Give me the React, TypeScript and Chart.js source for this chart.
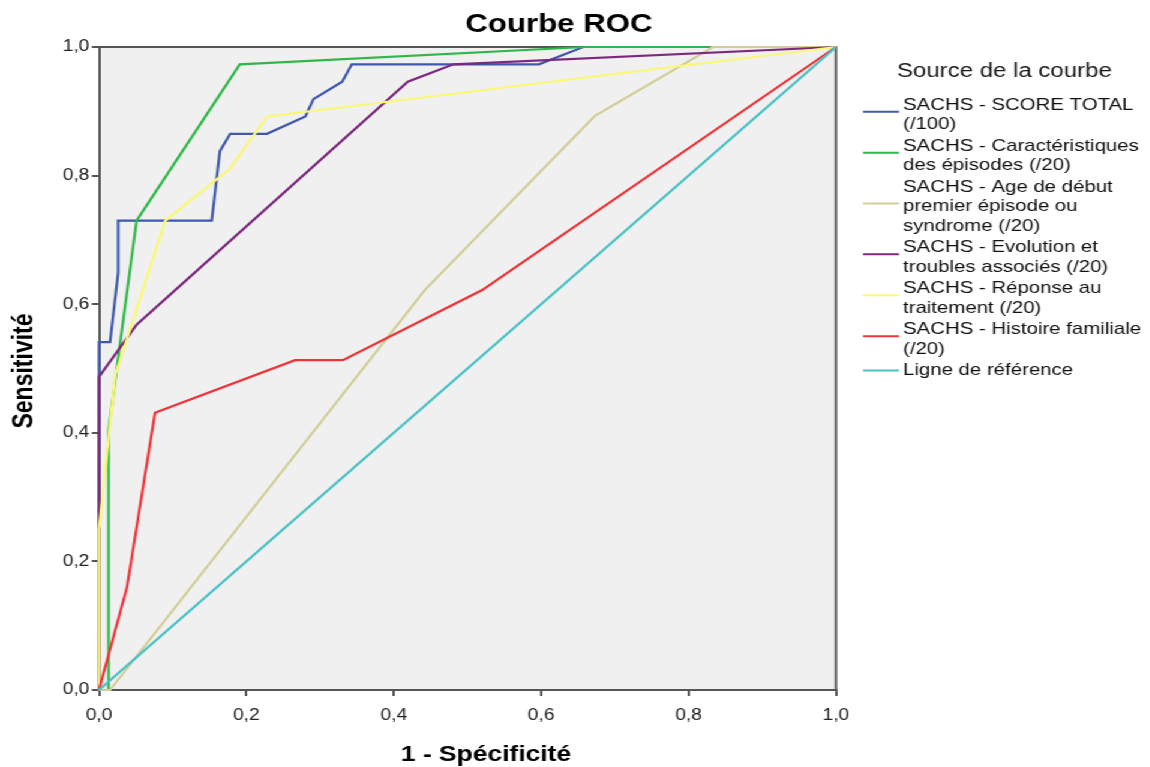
import React, { useEffect, useRef } from 'react';
import { Chart, registerables } from 'chart.js';

Chart.register(...registerables);

// ---------- data ----------
const chartTitle = 'Courbe ROC';
const xAxisTitle = '1 - Spécificité';
const yAxisTitle = 'Sensitivité';
const legendTitle = 'Source de la courbe';

const seriesLabels: string[][] = [
  ['SACHS - SCORE TOTAL', '(/100)'],
  ['SACHS - Caractéristiques', 'des épisodes (/20)'],
  ['SACHS - Age de début', 'premier épisode ou', 'syndrome (/20)'],
  ['SACHS - Evolution et', 'troubles associés (/20)'],
  ['SACHS - Réponse au', 'traitement (/20)'],
  ['SACHS - Histoire familiale', '(/20)'],
  ['Ligne de référence'],
];

const seriesColors = ['#3E58AC', '#2EB848', '#D3CE97', '#7C287D', '#FBF873', '#EF3338', '#48C2C5'];

const scoreTotalX = [0, 0, 0.015, 0.026, 0.026, 0.153, 0.164, 0.178, 0.228, 0.28, 0.291, 0.33, 0.343, 0.597, 0.657, 1];
const scoreTotalY = [0, 0.541, 0.541, 0.649, 0.73, 0.73, 0.838, 0.865, 0.865, 0.892, 0.919, 0.946, 0.973, 0.973, 1, 1];

const caractX = [0, 0.013, 0.013, 0.051, 0.191, 0.66, 1];
const caractY = [0, 0, 0.405, 0.73, 0.973, 1, 1];

const ageX = [0, 0.015, 0.442, 0.673, 0.833, 1];
const ageY = [0, 0, 0.622, 0.893, 1, 1];

const evolX = [0, 0, 0.051, 0.419, 0.481, 1];
const evolY = [0, 0.487, 0.568, 0.946, 0.973, 1];

const reponseX = [0, 0, 0.012, 0.022, 0.09, 0.178, 0.228, 1];
const reponseY = [0, 0.25, 0.38, 0.49, 0.73, 0.811, 0.892, 1];

const histX = [0, 0.038, 0.076, 0.266, 0.331, 0.52, 1];
const histY = [0, 0.16, 0.431, 0.513, 0.513, 0.622, 1];

const refX = [0, 1];
const refY = [0, 1];

const seriesX = [scoreTotalX, caractX, ageX, evolX, reponseX, histX, refX];
const seriesY = [scoreTotalY, caractY, ageY, evolY, reponseY, histY, refY];

const tickValues = [0, 0.2, 0.4, 0.6, 0.8, 1];
const fmtTick = (v: number) => v.toFixed(1).replace('.', ',');

// ---------- layout ----------
const SX = 1.2; // horizontal stretch of the whole picture
const W = 1150 / SX;
const H = 767;
const PLOT_L = 99 / SX;
const PLOT_R = 836 / SX;
const PLOT_T = 47;
const PLOT_B = 690;
const FONT = "'Liberation Sans', Arial, sans-serif";

const decoPlugin = {
  id: 'deco',
  beforeDraw(chart: any) {
    const { ctx, chartArea } = chart;
    ctx.save();
    ctx.fillStyle = '#ffffff';
    ctx.fillRect(0, 0, chart.width, chart.height);
    ctx.fillStyle = '#F0F0F0';
    ctx.fillRect(chartArea.left, chartArea.top, chartArea.right - chartArea.left, chartArea.bottom - chartArea.top);
    ctx.restore();
  },
  beforeDatasetsDraw(chart: any) {
    const { ctx, chartArea } = chart;
    ctx.save();
    ctx.strokeStyle = '#555555';
    ctx.lineWidth = 2;
    ctx.beginPath();
    ctx.moveTo(chartArea.left, chartArea.top);
    ctx.lineTo(chartArea.right, chartArea.top);
    ctx.lineTo(chartArea.right, chartArea.bottom);
    ctx.stroke();
    ctx.restore();
  },
  afterDraw(chart: any) {
    const { ctx } = chart;
    ctx.save();
    ctx.fillStyle = '#000000';
    ctx.textBaseline = 'middle';
    // title
    ctx.textAlign = 'center';
    ctx.font = `bold 26px ${FONT}`;
    ctx.fillText(chartTitle, 559 / SX, 25);
    // x title
    ctx.font = `bold 22px 'Liberation Sans Narrow', 'Arial Narrow', ${FONT}`;
    ctx.fillText(xAxisTitle, 486 / SX, 755);
    // y title
    ctx.save();
    ctx.translate(25 / SX, 371);
    ctx.rotate(-Math.PI / 2);
    ctx.font = `bold 23px ${FONT}`;
    ctx.fillText(yAxisTitle, 0, 0);
    ctx.restore();
    // legend
    ctx.textAlign = 'left';
    ctx.fillStyle = '#1a1a1a';
    ctx.font = `20px ${FONT}`;
    ctx.fillText(legendTitle, 897 / SX, 71);
    ctx.font = `17px ${FONT}`;
    const lineH = 19.5;
    let y = 105;
    seriesLabels.forEach((lines, i) => {
      lines.forEach((t, j) => {
        ctx.fillStyle = '#111111';
        ctx.fillText(t, 903 / SX, y + j * lineH);
      });
      const n = lines.length;
      const sy = y + ((n - 1) * lineH) / 2 - (n > 1 ? 3 : 0);
      ctx.strokeStyle = seriesColors[i];
      ctx.lineWidth = 2;
      ctx.beginPath();
      ctx.moveTo(863 / SX, sy);
      ctx.lineTo(899 / SX, sy);
      ctx.stroke();
      y += n * lineH + 2;
    });
    ctx.restore();
  },
};

export default function App() {
  const ref = useRef<HTMLCanvasElement | null>(null);

  useEffect(() => {
    if (!ref.current) return;
    const datasets = seriesX.map((xs, i) => ({
      label: seriesLabels[i].join(' '),
      data: xs.map((x, k) => ({ x, y: seriesY[i][k] })),
      borderColor: seriesColors[i],
      backgroundColor: seriesColors[i],
      borderWidth: 2.2,
      pointRadius: 0,
      fill: false,
      tension: 0,
      clip: false as any,
      order: -i,
    }));
    const axisCommon = {
      type: 'linear' as const,
      min: 0,
      max: 1,
      afterBuildTicks: (s: any) => {
        s.ticks = tickValues.map((v) => ({ value: v }));
      },
      grid: { drawOnChartArea: false, drawTicks: true, tickLength: 6, color: '#555555', lineWidth: 2 },
      border: { display: true, color: '#555555', width: 2 },
    };
    const chart = new Chart(ref.current, {
      type: 'line',
      data: { datasets },
      options: {
        animation: false,
        responsive: true,
        maintainAspectRatio: false,
        layout: { padding: { top: PLOT_T, right: W - PLOT_R, bottom: 0, left: 0 } },
        plugins: { legend: { display: false }, title: { display: false }, tooltip: { enabled: false } },
        scales: {
          x: {
            ...axisCommon,
            ticks: { callback: (v: any) => fmtTick(Number(v)), font: { size: 16, family: FONT }, color: '#222222', padding: 10, maxRotation: 0 },
            afterFit: (s: any) => {
              s.height = H - PLOT_B;
            },
          },
          y: {
            ...axisCommon,
            ticks: { callback: (v: any) => fmtTick(Number(v)), font: { size: 16, family: FONT }, color: '#222222', padding: 2 },
            afterFit: (s: any) => {
              s.width = PLOT_L;
            },
          },
        },
      },
      plugins: [decoPlugin],
    });
    return () => chart.destroy();
  }, []);

  return (
    <div
      style={{
        position: 'fixed',
        left: 0,
        top: 0,
        width: W,
        height: H,
        transform: `scaleX(${SX})`,
        transformOrigin: '0 0',
        background: '#fff',
      }}
    >
      <canvas ref={ref} />
    </div>
  );
}
